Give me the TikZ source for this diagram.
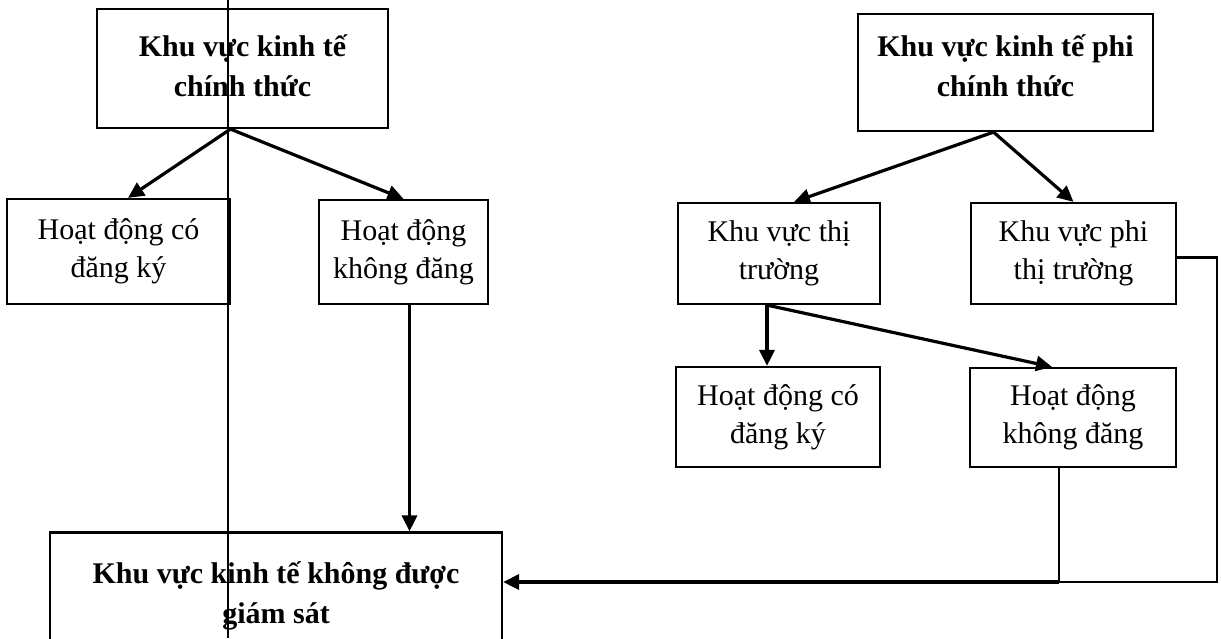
\documentclass[tikz,border=0pt]{standalone}
\usepackage{fontspec}
\setmainfont{Liberation Serif}
\usetikzlibrary{arrows.meta,calc}
\begin{document}
\begin{tikzpicture}[x=0.5pt,y=-0.5pt,
  box/.style={draw,line width=1.1pt,inner sep=0pt,align=center,font=\fontsize{15}{19}\selectfont},
  bbox/.style={box,font=\fontsize{15}{20}\selectfont\bfseries},
  arr/.style={line width=1.6pt,-{Triangle[length=8pt,width=7.5pt]}},
  link/.style={line width=1.1pt},
  scanline/.style={line width=0.6pt}]
\useasboundingbox (0,0) rectangle (1221,638);
% left branch
\node[bbox,minimum width=145.5pt,minimum height=59.5pt] (A) at (242.5,68.5) {Khu vực kinh tế\\chính thức\rule[-3pt]{0pt}{0pt}};
\node[box,minimum width=111.5pt,minimum height=52.5pt] (B) at (118.5,251.5) {Hoạt động có\\đăng ký};
\node[box,minimum width=84.5pt,minimum height=52pt] (C) at (403.5,252) {Hoạt động\\không đăng};
% right branch
\node[bbox,minimum width=147.5pt,minimum height=58.5pt] (D) at (1005.5,72.5) {Khu vực kinh tế phi\\chính thức\rule[-7pt]{0pt}{0pt}};
\node[box,minimum width=101pt,minimum height=50.5pt] (E) at (779,253.5) {Khu vực thị\\trường};
\node[box,minimum width=102.5pt,minimum height=50.5pt] (F) at (1073.5,253.5) {Khu vực phi\\thị trường};
\node[box,minimum width=102pt,minimum height=50pt] (G) at (778,417) {Hoạt động có\\đăng ký};
\node[box,minimum width=103pt,minimum height=49.5pt] (H) at (1073,417.5) {Hoạt động\\không đăng};
% bottom
\node[bbox,minimum width=226pt,minimum height=63.5pt] (I) at (276,596) {Khu vực kinh tế không được\\giám sát};
% connectors
\draw[arr] ([xshift=-6pt]A.south) -- ([xshift=4.75pt]B.north);
\draw[arr] ([xshift=-6pt]A.south) -- (C.north);
\draw[arr] ([xshift=3pt]C.south) -- ([xshift=3pt]C.south |- I.north);
\draw[arr] ([xshift=-6pt]D.south) -- ([xshift=7.5pt]E.north);
\draw[arr] ([xshift=-6pt]D.south) -- (F.north);
\draw[arr] ([xshift=-6pt]E.south) -- ([xshift=-6pt]E.south |- G.north);
\draw[arr] ([xshift=-6pt]E.south) -- ([xshift=-10.5pt]H.north);
\coordinate (rc) at (1217,582);
\coordinate (hj) at ([xshift=-7pt]H.south |- rc);
\draw[link] ([xshift=-7pt]H.south) -- (hj);
\draw[arr] (hj) -- (hj -| I.east);
\draw[link] ([yshift=-2pt]F.east) -| (rc) -- (hj);
% thin vertical scan line
\coordinate (vt) at (228,0);
\coordinate (vb) at (228,638);
\draw[scanline] (vt) -- (vb);
\end{tikzpicture}
\end{document}
